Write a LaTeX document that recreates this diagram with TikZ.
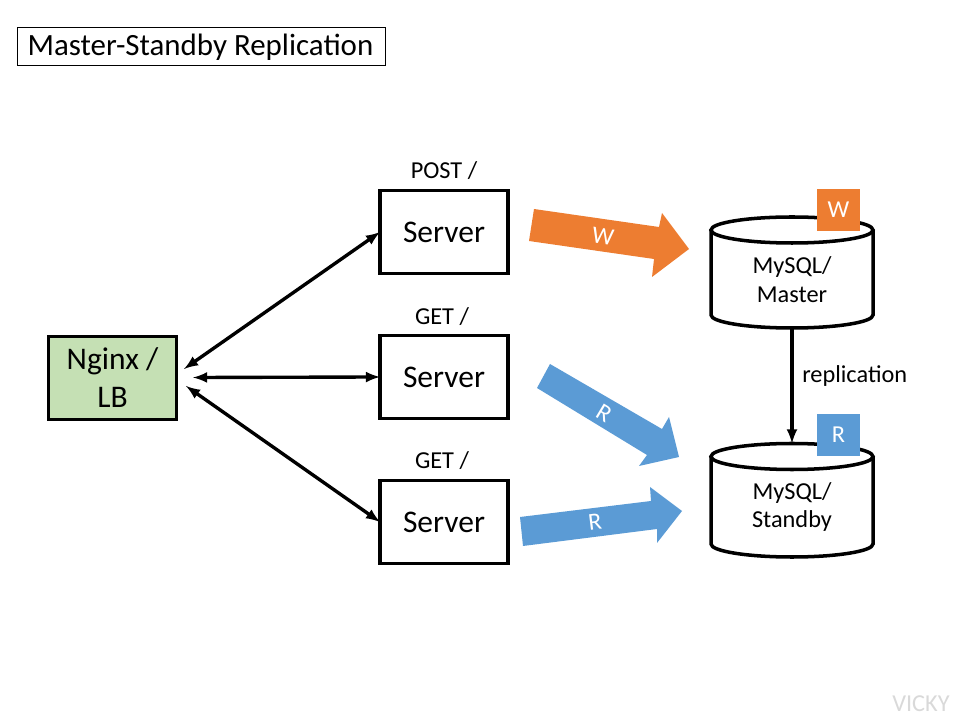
\documentclass[tikz,border=0pt]{standalone}
\usepackage{fontspec}
\setmainfont{Carlito}
\definecolor{orangeW}{HTML}{ED7D31}
\definecolor{blueR}{HTML}{5B9BD5}
\definecolor{greenLB}{HTML}{C5E0B4}
\newcommand{\drawdb}[3]{%
  \draw[dbline,fill=white] (711,#2) -- (711,#3) arc[start angle=180,end angle=0,x radius=81,y radius=13] -- (873,#2);
  \draw[dbline,fill=white] (792,#2) ellipse[x radius=81,y radius=13];
  \coordinate (#1Top) at (792,#2-13);
  \coordinate (#1Bottom) at (792,#3+13);
}
\tikzset{
  bigtext/.style={font=\fontsize{22.4}{27}\selectfont},
  smalltext/.style={font=\fontsize{17.3}{20.5}\selectfont},
  serverbox/.style={draw,line width=2.2pt,minimum width=91pt,minimum height=59pt,inner sep=0pt,outer sep=0pt,bigtext},
  dbline/.style={line width=2.5pt},
  dbtext/.style={inner sep=0pt,align=center,smalltext},
  tagbox/.style={minimum width=30.6pt,minimum height=30pt,inner sep=0pt,outer sep=0pt,text=white,smalltext},
  arrowtext/.style={inner sep=0pt,text=white,smalltext},
  link/.style={line width=2.4pt,<->},
}
\begin{document}
\begin{tikzpicture}[x=0.025cm,y=-0.025cm,line cap=butt,line join=miter,>=latex]
  \useasboundingbox (0,0) rectangle (960,720);
  % title
  \node[draw,line width=0.7pt,minimum width=261pt,minimum height=27.7pt,inner sep=0pt,outer sep=0pt] (title) at (201.5,46.5) {};
  \node[inner sep=0pt,font=\fontsize{22}{26}\selectfont] (titletext) at (200.5,47) {Master-Standby Replication};
  % left side
  \node[serverbox,fill=greenLB,align=center] (lb) at (112.5,378) {Nginx /\\LB};
  \node[serverbox] (serverA) at (444,232) {Server};
  \node[serverbox] (serverB) at (444,377) {Server};
  \node[serverbox] (serverC) at (444,522) {Server};
  \node[anchor=center,inner sep=0pt,smalltext] (labelA) at (444,171) {POST /};
  \node[anchor=center,inner sep=0pt,smalltext] (labelB) at (442,317) {GET /};
  \node[anchor=center,inner sep=0pt,smalltext] (labelC) at (442,461) {GET /};
  \coordinate (lbA) at (184,369);
  \coordinate (lbB) at (193,377.5);
  \coordinate (lbC) at (186,386);
  \draw[link] (lbA) -- (serverA.west);
  \draw[link] (lbB) -- (serverB.west);
  \draw[link] (lbC) -- (serverC.west);
  % block arrows
  \fill[orangeW] (534,209) -- (659,227) -- (662,213) -- (689,249) -- (652,277) -- (654,259) -- (529,241) -- cycle;
  \fill[blueR] (550,364) -- (662,429) -- (669,417) -- (679,457) -- (639,466) -- (647,455) -- (537,388) -- cycle;
  \fill[blueR] (520,517) -- (651,501) -- (650,487) -- (682,511) -- (657,543) -- (657,529) -- (523,546) -- cycle;
  \node[arrowtext,rotate=-8.5] (textW) at (603,236) {W};
  \node[arrowtext,rotate=-31] (textRa) at (604,413) {R};
  \node[arrowtext,rotate=7] (textRb) at (595,522) {R};
  % databases
  \drawdb{master}{230}{315}
  \drawdb{standby}{456.5}{544}
  \node[dbtext] (masterText) at (792,280) {MySQL/\\Master};
  \node[dbtext] (standbyText) at (792,507) {MySQL/\\Standby};
  \draw[line width=2.4pt,->] (masterBottom) -- (standbyTop);
  \node[anchor=west,inner sep=0pt,smalltext] (replication) at (802,376) {replication};
  \node[tagbox,fill=orangeW] (tagW) at (838.5,210) {W};
  \node[tagbox,fill=blueR] (tagR) at (838.5,435) {R};
  % mark
  \node[inner sep=0pt,text=black!15,font=\fontsize{17.3}{20}\selectfont] (vicky) at (921,704) {VICKY};
\end{tikzpicture}
\end{document}
